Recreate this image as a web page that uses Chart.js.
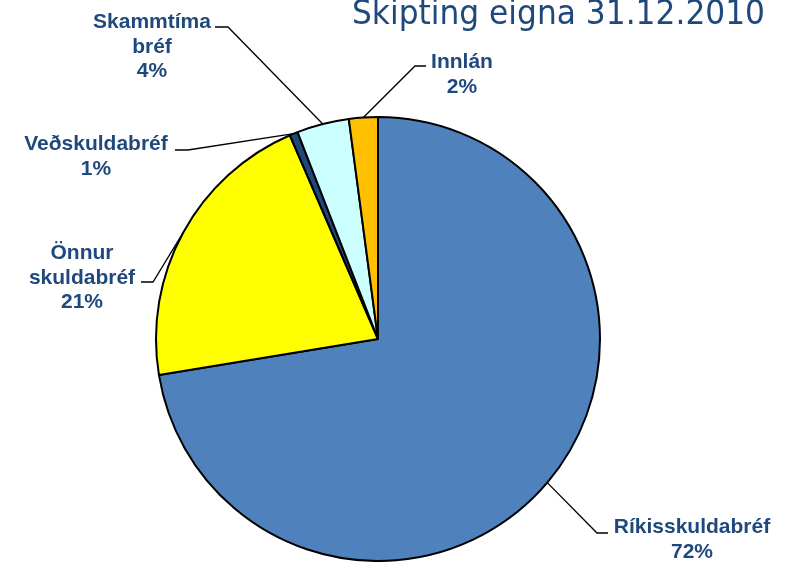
<!DOCTYPE html>
<html>
<head>
<meta charset="utf-8">
<script src="https://cdn.jsdelivr.net/npm/chart.js@4"></script>
<style>
  html, body { margin: 0; padding: 0; background: #ffffff; }
  #wrap { width: 790px; height: 562px; }
</style>
</head>
<body>
<div id="wrap"><canvas id="c" width="790" height="562"></canvas></div>
<script>
// ---- data ----
const chartTitle = 'Skipting eigna 31.12.2010';
const categories = ['Ríkisskuldabréf', 'Önnur skuldabréf', 'Veðskuldabréf', 'Skammtíma bréf', 'Innlán'];
const values = [72.4, 21.1, 0.6, 3.8, 2.1];
const sliceColors = ['#4F81BD', '#FFFF00', '#1F497D', '#CCFFFF', '#FFC000'];

// ---- label layout (text centre x, first baseline y, line start x/y, elbow x) ----
const labelLayout = [
  { cx: 692, by: 533, lx: 608, ly: 533, ex: 597 },
  { cx: 82,  by: 259, lx: 141, ly: 282, ex: 153 },
  { cx: 96,  by: 150, lx: 175, ly: 150, ex: 188 },
  { cx: 152, by: 28,  lx: 215, ly: 27,  ex: 228 },
  { cx: 462, by: 68,  lx: 426, ly: 66,  ex: 415 }
];
const textColor = '#1F497D';

const total = values.reduce((a, b) => a + b, 0);

const labelPlugin = {
  id: 'pieLabels',
  afterDatasetsDraw(chart) {
    const ctx = chart.ctx;
    const meta = chart.getDatasetMeta(0);
    ctx.save();
    meta.data.forEach((arc, i) => {
      const p = arc.getProps(['x', 'y', 'startAngle', 'endAngle', 'outerRadius'], true);
      const mid = (p.startAngle + p.endAngle) / 2;
      const ax = p.x + Math.cos(mid) * p.outerRadius;
      const ay = p.y + Math.sin(mid) * p.outerRadius;
      const L = labelLayout[i];
      ctx.strokeStyle = '#000000';
      ctx.lineWidth = 1.3;
      ctx.beginPath();
      ctx.moveTo(L.lx, L.ly);
      ctx.lineTo(L.ex, L.ly);
      ctx.lineTo(ax, ay);
      ctx.stroke();
      const lines = categories[i].split(' ');
      lines.push(Math.round(values[i] / total * 100) + '%');
      ctx.fillStyle = textColor;
      ctx.font = 'bold 21px "Liberation Sans", Arial, sans-serif';
      ctx.textAlign = 'center';
      ctx.textBaseline = 'alphabetic';
      lines.forEach((t, k) => ctx.fillText(t, L.cx, L.by + k * 24.5));
    });
    // title (narrowed to the reference width)
    ctx.fillStyle = textColor;
    ctx.font = '33px "DejaVu Sans", sans-serif';
    ctx.textAlign = 'left';
    ctx.textBaseline = 'alphabetic';
    const w = ctx.measureText(chartTitle).width;
    const sx = 413 / w;
    ctx.translate(352, 23.5);
    ctx.scale(sx, 1);
    ctx.fillText(chartTitle, 0, 0);
    ctx.restore();
  }
};

new Chart(document.getElementById('c'), {
  type: 'pie',
  data: {
    labels: categories,
    datasets: [{
      data: values,
      backgroundColor: sliceColors,
      borderColor: '#000000',
      borderWidth: 2,
      borderAlign: 'center',
      radius: 222
    }]
  },
  options: {
    responsive: false,
    animation: false,
    layout: { padding: { left: 100, right: 134, top: 116, bottom: 0 } },
    plugins: {
      legend: { display: false },
      tooltip: { enabled: false },
      title: { display: false }
    }
  },
  plugins: [labelPlugin]
});
</script>
</body>
</html>
